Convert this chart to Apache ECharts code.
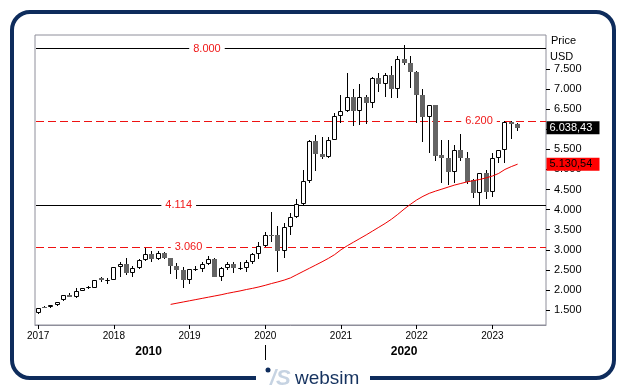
<!DOCTYPE html>
<html><head><meta charset="utf-8">
<script src="https://cdn.jsdelivr.net/npm/echarts@6/dist/echarts.min.js"></script>
<style>html,body{margin:0;padding:0;background:#fff}#c{width:628px;height:392px}</style>
</head><body><div id="c"></div><script>
// ---- data ----
const firstYear = 2017;
const slotCount = 81; // Jan 2017 .. Sep 2023 (axis room)
const months = [];
for (let k = 0; k < slotCount; k++) {
  const y = firstYear + Math.floor(k / 12), m = (k % 12) + 1;
  months.push(y + '-' + (m < 10 ? '0' + m : m));
}
const opens  = [1418,1585,1567,1617,1741,1873,1816,1980,2055,2055,2297,2240,2247,2563,2645,2429,2538,2737,2894,2762,2919,2787,2588,2496,2240,2513,2528,2638,2762,2329,2538,2638,2528,2538,2688,2887,3101,3375,3367,2976,3559,3808,4132,4704,5707,5391,5302,5725,6322,6454,6795,6462,6795,6646,7276,7119,7343,7010,7741,7657,7425,6845,6312,6596,5359,5277,4943,5483,5277,4737,4405,4903,4445,5277,5483,6188,6131];
const closes = [1542,1550,1617,1692,1873,1831,1966,2040,2070,2240,2247,2255,2571,2645,2429,2546,2737,2894,2762,2919,2787,2588,2489,2240,2513,2530,2638,2762,2329,2538,2638,2553,2540,2702,2887,3101,3360,3360,2976,3559,3808,4132,4704,5707,5391,5302,5725,6322,6454,6795,6462,6795,6646,7276,7119,7343,7010,7741,7657,7425,6845,6312,6596,5342,5277,4943,5483,5277,4694,4405,4903,4445,5277,5483,6188,6123,6038.43];
const lows   = [1410,1545,1542,1610,1730,1825,1810,1975,2023,2045,2205,2140,2240,2314,2371,2314,2520,2730,2703,2740,2760,2389,2264,2055,2155,2471,2446,2630,2320,2230,2500,2414,2496,2454,2638,2777,3080,3200,2453,2787,3367,3800,4120,4669,4968,5252,5290,5720,6148,6440,6090,6100,6123,6537,6935,6795,6771,6771,7600,7020,6148,5690,5401,5200,4650,4612,4660,5200,4640,4281,4114,4256,4321,5167,5167,5750,5964];
const highs  = [1550,1595,1625,1700,1880,1920,2040,2060,2105,2250,2314,2297,2580,2695,2787,2603,2762,3051,2977,2962,2940,2800,2663,2563,2530,2595,2688,2837,2790,2560,2688,2695,2688,2745,2919,3185,3442,3940,3591,3659,3922,4270,4985,5732,5864,5800,5815,6397,6853,7400,6995,7127,6845,7290,7408,7408,7574,7823,8097,7823,7450,7000,6610,6610,5732,5732,5600,5874,5441,4760,4920,4990,5416,5490,6200,6213,6163];
const maStart = 21;
const maValues = [1640,1670,1700,1730,1760,1790,1820,1850,1880,1915,1945,1975,2010,2040,2075,2115,2160,2200,2245,2300,2380,2460,2540,2620,2700,2785,2880,3000,3100,3190,3280,3370,3465,3560,3655,3760,3880,4010,4130,4240,4330,4405,4460,4510,4560,4610,4650,4690,4720,4750,4790,4835,4900,5000,5070,5130.54];
const levels = [8000, 6200, 4114, 3060];
const levelSolid = [true, false, true, false];
const yTicks = [1500,2000,2500,3000,3500,4000,4500,5000,5500,6000,6500,7000,7500];
const decadeLabels = ['2010', '2020'];
const lastPrice = 6038.43;
const lastMA = 5130.54;

// ---- layout helpers (not data) ----
const levelLabelX = [26.76, 69.88, 22.28, 23.83];
const decadeLabelX = [17.5, 58];
const decadeSplitX = 36;

function fmtInt(v) { return String(Math.round(v)).replace(/\B(?=(\d{3})+(?!\d))/g, '.'); }
function fmtDec(v) { const p = v.toFixed(2).split('.'); return fmtInt(+p[0]) + ',' + p[1]; }

const candleData = opens.map((o, i) => [i, o, closes[i], lows[i], highs[i]]);
const maData = months.map((m, i) => (i >= maStart && i - maStart < maValues.length) ? maValues[i - maStart] : null);
const levelData = levels.map(v => [0, v]);

const FONT = 'Liberation Sans, Arial, sans-serif';
const chart = echarts.init(document.getElementById('c'), null, {renderer: 'canvas'});

function renderCandle(params, api) {
  const i = api.value(0), o = api.value(1), c = api.value(2), l = api.value(3), h = api.value(4);
  const po = api.coord([i, o]), pc = api.coord([i, c]), pl = api.coord([i, l]), ph = api.coord([i, h]);
  const cx = Math.floor(po[0]) + 0.5;
  const up = c >= o;
  const top = Math.round(Math.min(po[1], pc[1])), bot = Math.round(Math.max(po[1], pc[1]));
  const yh = Math.round(ph[1]), yl = Math.round(pl[1]);
  const children = [
    {type: 'line', shape: {x1: cx, y1: yh, x2: cx, y2: top}, style: {stroke: '#000', lineWidth: 1}},
    {type: 'line', shape: {x1: cx, y1: bot, x2: cx, y2: yl}, style: {stroke: '#000', lineWidth: 1}}
  ];
  if (up) {
    children.push({type: 'rect', shape: {x: cx - 2, y: top + 0.5, width: 4, height: Math.max(bot - top - 1, 0)},
      style: {fill: '#fff', stroke: '#000', lineWidth: 1}});
  } else {
    children.push({type: 'rect', shape: {x: cx - 2.5, y: top, width: 5, height: Math.max(bot - top, 1)},
      style: {fill: '#646464', stroke: null}});
  }
  return {type: 'group', children};
}

function renderLevel(params, api) {
  const cs = params.coordSys;
  const y = Math.floor(api.coord([0, api.value(1)])[1]) + 0.5;
  const solid = levelSolid[params.dataIndex];
  return {type: 'line', shape: {x1: cs.x + 1, y1: y, x2: cs.x + cs.width, y2: y},
    style: solid ? {stroke: '#000', lineWidth: 1} : {stroke: '#ee1111', lineWidth: 1, lineDash: [8, 4]}};
}

const option = {
  animation: false,
  backgroundColor: '#fff',
  textStyle: {fontFamily: FONT},
  grid: {left: 35, right: 82, top: 35, bottom: 67, show: true, borderColor: '#8e8e9a', borderWidth: 1, backgroundColor: '#fff'},
  xAxis: [{
    type: 'category', data: months, boundaryGap: true,
    axisLine: {show: true, onZero: false, lineStyle: {color: '#8e8e9a'}},
    axisTick: {show: true, alignWithLabel: true, length: 4, interval: (idx, v) => v.endsWith('-01'), lineStyle: {color: '#000'}},
    axisLabel: {show: true, interval: (idx, v) => v.endsWith('-01'), formatter: v => v.slice(0, 4), color: '#000', fontSize: 10, margin: 6, fontFamily: FONT},
    splitLine: {show: false}
  }, {
    type: 'value', min: -0.5, max: slotCount - 0.5, position: 'bottom', offset: 20,
    axisLine: {show: false, onZero: false},
    axisTick: {show: true, customValues: [decadeSplitX], length: 15, lineStyle: {color: '#000'}},
    axisLabel: {show: true, customValues: decadeLabelX, formatter: v => decadeLabels[decadeLabelX.indexOf(v)] || '', color: '#000', fontSize: 12, fontWeight: 'bold', margin: 1, fontFamily: FONT},
    splitLine: {show: false}
  }],
  yAxis: [{
    type: 'value', position: 'right', min: 1127, max: 8346,
    axisLine: {show: false, onZero: false},
    axisTick: {show: true, customValues: yTicks, length: 4, lineStyle: {color: '#000'}},
    axisLabel: {show: true, customValues: yTicks, formatter: v => fmtInt(v), color: '#000', fontSize: 11, margin: 8, fontFamily: FONT},
    splitLine: {show: false}
  }],
  series: [{
    name: 'levels', type: 'custom', xAxisIndex: 0, yAxisIndex: 0, data: levelData, z: 1, silent: true,
    encode: {x: 0, y: 1}, renderItem: renderLevel
  }, {
    name: 'candles', type: 'custom', xAxisIndex: 0, yAxisIndex: 0, data: candleData, z: 2, silent: true,
    encode: {x: 0, y: [1, 2, 3, 4]}, renderItem: renderCandle
  }, {
    name: 'MA', type: 'line', xAxisIndex: 0, yAxisIndex: 0, data: maData, z: 3, silent: true,
    showSymbol: false, symbol: 'none', lineStyle: {color: '#ee0000', width: 1}
  }, {
    name: 'labels', type: 'line', xAxisIndex: 1, yAxisIndex: 0, data: [], z: 6, silent: true, clip: false,
    markPoint: {
      silent: true, animation: false,
      data: levels.map((v, k) => ({
        coord: [levelLabelX[k], v], symbol: 'rect', symbolSize: 1, itemStyle: {color: 'rgba(0,0,0,0)'},
        label: {show: true, position: 'inside', formatter: fmtInt(v), color: '#f01818', backgroundColor: '#fff', padding: [1, 4], fontSize: 11, fontFamily: FONT}
      })).concat([{
        coord: [slotCount - 0.5, lastPrice], symbol: 'rect', symbolSize: 1, itemStyle: {color: 'rgba(0,0,0,0)'},
        label: {show: true, position: 'right', distance: 0, formatter: fmtDec(lastPrice), color: '#fff', backgroundColor: '#000', padding: [1, 3, 1, 3], width: 47, lineHeight: 11, align: 'left', fontSize: 11, fontFamily: FONT}
      }, {
        coord: [slotCount - 0.5, lastMA], symbol: 'rect', symbolSize: 1, itemStyle: {color: 'rgba(0,0,0,0)'},
        label: {show: true, position: 'right', distance: 0, formatter: fmtDec(lastMA), color: '#000', backgroundColor: '#ff0000', padding: [1, 3, 1, 3], width: 47, lineHeight: 11, align: 'left', fontSize: 11, fontFamily: FONT}
      }])
    }
  }],
  graphic: [
    {type: 'rect', shape: {x: 12, y: 12, width: 602, height: 366, r: 18}, style: {fill: 'none', stroke: '#0e2c5c', lineWidth: 4}, z: 10},
    {type: 'rect', shape: {x: 256, y: 370, width: 114, height: 14}, style: {fill: '#fff'}, z: 11},
    {type: 'circle', shape: {cx: 268, cy: 370, r: 2.5}, style: {fill: '#0e2c5c'}, z: 12},
    {type: 'text', x: 270, y: 379, style: {text: '/S', fill: '#c6d3e2', font: 'italic bold 22px ' + FONT, textVerticalAlign: 'middle'}, z: 12},
    {type: 'text', x: 295, y: 379, style: {text: 'websim', fill: '#15325f', font: '19px ' + FONT, textVerticalAlign: 'middle'}, z: 12},
    {type: 'text', x: 551, y: 41, style: {text: 'Price', fill: '#000', font: '11px ' + FONT, textVerticalAlign: 'middle'}, z: 12},
    {type: 'text', x: 550, y: 57, style: {text: 'USD', fill: '#000', font: '11px ' + FONT, textVerticalAlign: 'middle'}, z: 12}
  ]
};
chart.setOption(option);
</script></body></html>
